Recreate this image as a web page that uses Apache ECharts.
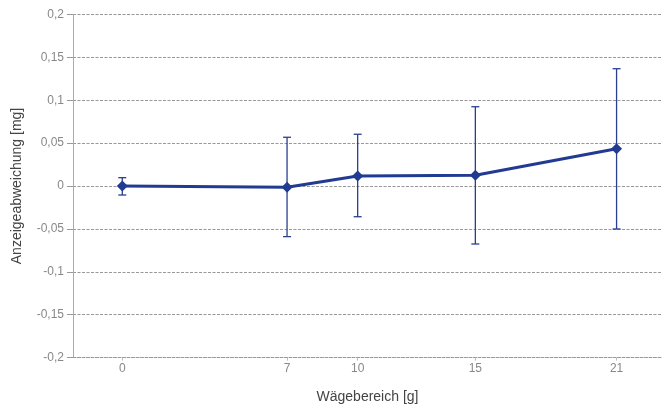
<!DOCTYPE html>
<html>
<head>
<meta charset="utf-8">
<script src="https://cdn.jsdelivr.net/npm/echarts@6/dist/echarts.min.js"></script>
<style>
html,body{margin:0;padding:0;background:#fff;}
#c{width:662px;height:407px;}
</style>
</head>
<body>
<div id="c"></div>
<script>
var xValues = [0, 7, 10, 15, 21];
var yValues = [0, -0.0015, 0.0117, 0.0125, 0.0435];
var errUpper = [0.0097, 0.0568, 0.0603, 0.0924, 0.1367];
var errLower = [-0.0105, -0.059, -0.0358, -0.0676, -0.0501];
var xTicks = [0, 7, 10, 15, 21];
var yTicks = [-0.2, -0.15, -0.1, -0.05, 0, 0.05, 0.1, 0.15, 0.2];

var lineColor = '#213b92';
var errColor = '#2a3f90';

var chart = echarts.init(document.getElementById('c'));
var lineData = xValues.map(function (x, i) { return [x, yValues[i]]; });
var errData = xValues.map(function (x, i) { return [x, errLower[i], errUpper[i]]; });

chart.setOption({
  animation: false,
  textStyle: { fontFamily: 'Liberation Sans, Arial, sans-serif' },
  grid: { left: 73, right: 0, top: 14.4, bottom: 49.4, containLabel: false, outerBoundsMode: 'none' },
  xAxis: {
    type: 'value',
    min: -2.094,
    max: 22.93,
    name: 'Wägebereich [g]',
    nameLocation: 'middle',
    nameGap: 33,
    nameTextStyle: { color: '#444', fontSize: 14 },
    axisLine: { show: true, onZero: false, lineStyle: { color: '#999', type: [3, 1.5], width: 1 } },
    axisTick: { show: true, customValues: xTicks, length: 3, lineStyle: { color: '#bbb' } },
    axisLabel: { customValues: xTicks, color: '#888', fontSize: 12, margin: 5 },
    splitLine: { show: false }
  },
  yAxis: {
    type: 'value',
    min: -0.2,
    max: 0.2,
    interval: 0.05,
    name: 'Anzeigeabweichung [mg]',
    nameLocation: 'middle',
    nameGap: 49,
    nameTextStyle: { color: '#444', fontSize: 14 },
    axisLine: { show: true, onZero: false, lineStyle: { color: '#aaa', width: 1 } },
    axisTick: { show: true, length: 6, lineStyle: { color: '#999' } },
    axisLabel: {
      color: '#888', fontSize: 12, margin: 9,
      formatter: function (v) {
        var r = Math.round(v * 100) / 100;
        return String(r).replace('.', ',');
      }
    },
    splitLine: { show: true, lineStyle: { color: '#999', type: [3, 1.5], width: 1 } }
  },
  series: [
    {
      type: 'custom',
      z: 1,
      renderItem: function (params, api) {
        var x = api.value(0);
        var lo = api.coord([x, api.value(1)]);
        var hi = api.coord([x, api.value(2)]);
        var hw = 4;
        var st = { stroke: errColor, lineWidth: 1.3 };
        return {
          type: 'group',
          children: [
            { type: 'line', shape: { x1: hi[0], y1: hi[1], x2: lo[0], y2: lo[1] }, style: st },
            { type: 'line', shape: { x1: hi[0] - hw, y1: hi[1], x2: hi[0] + hw, y2: hi[1] }, style: st },
            { type: 'line', shape: { x1: lo[0] - hw, y1: lo[1], x2: lo[0] + hw, y2: lo[1] }, style: st }
          ]
        };
      },
      encode: { x: 0, y: [1, 2] },
      data: errData
    },
    {
      type: 'line',
      z: 2,
      data: lineData,
      symbol: 'diamond',
      symbolSize: 11,
      lineStyle: { color: lineColor, width: 3 },
      itemStyle: { color: lineColor }
    }
  ]
});
</script>
</body>
</html>
